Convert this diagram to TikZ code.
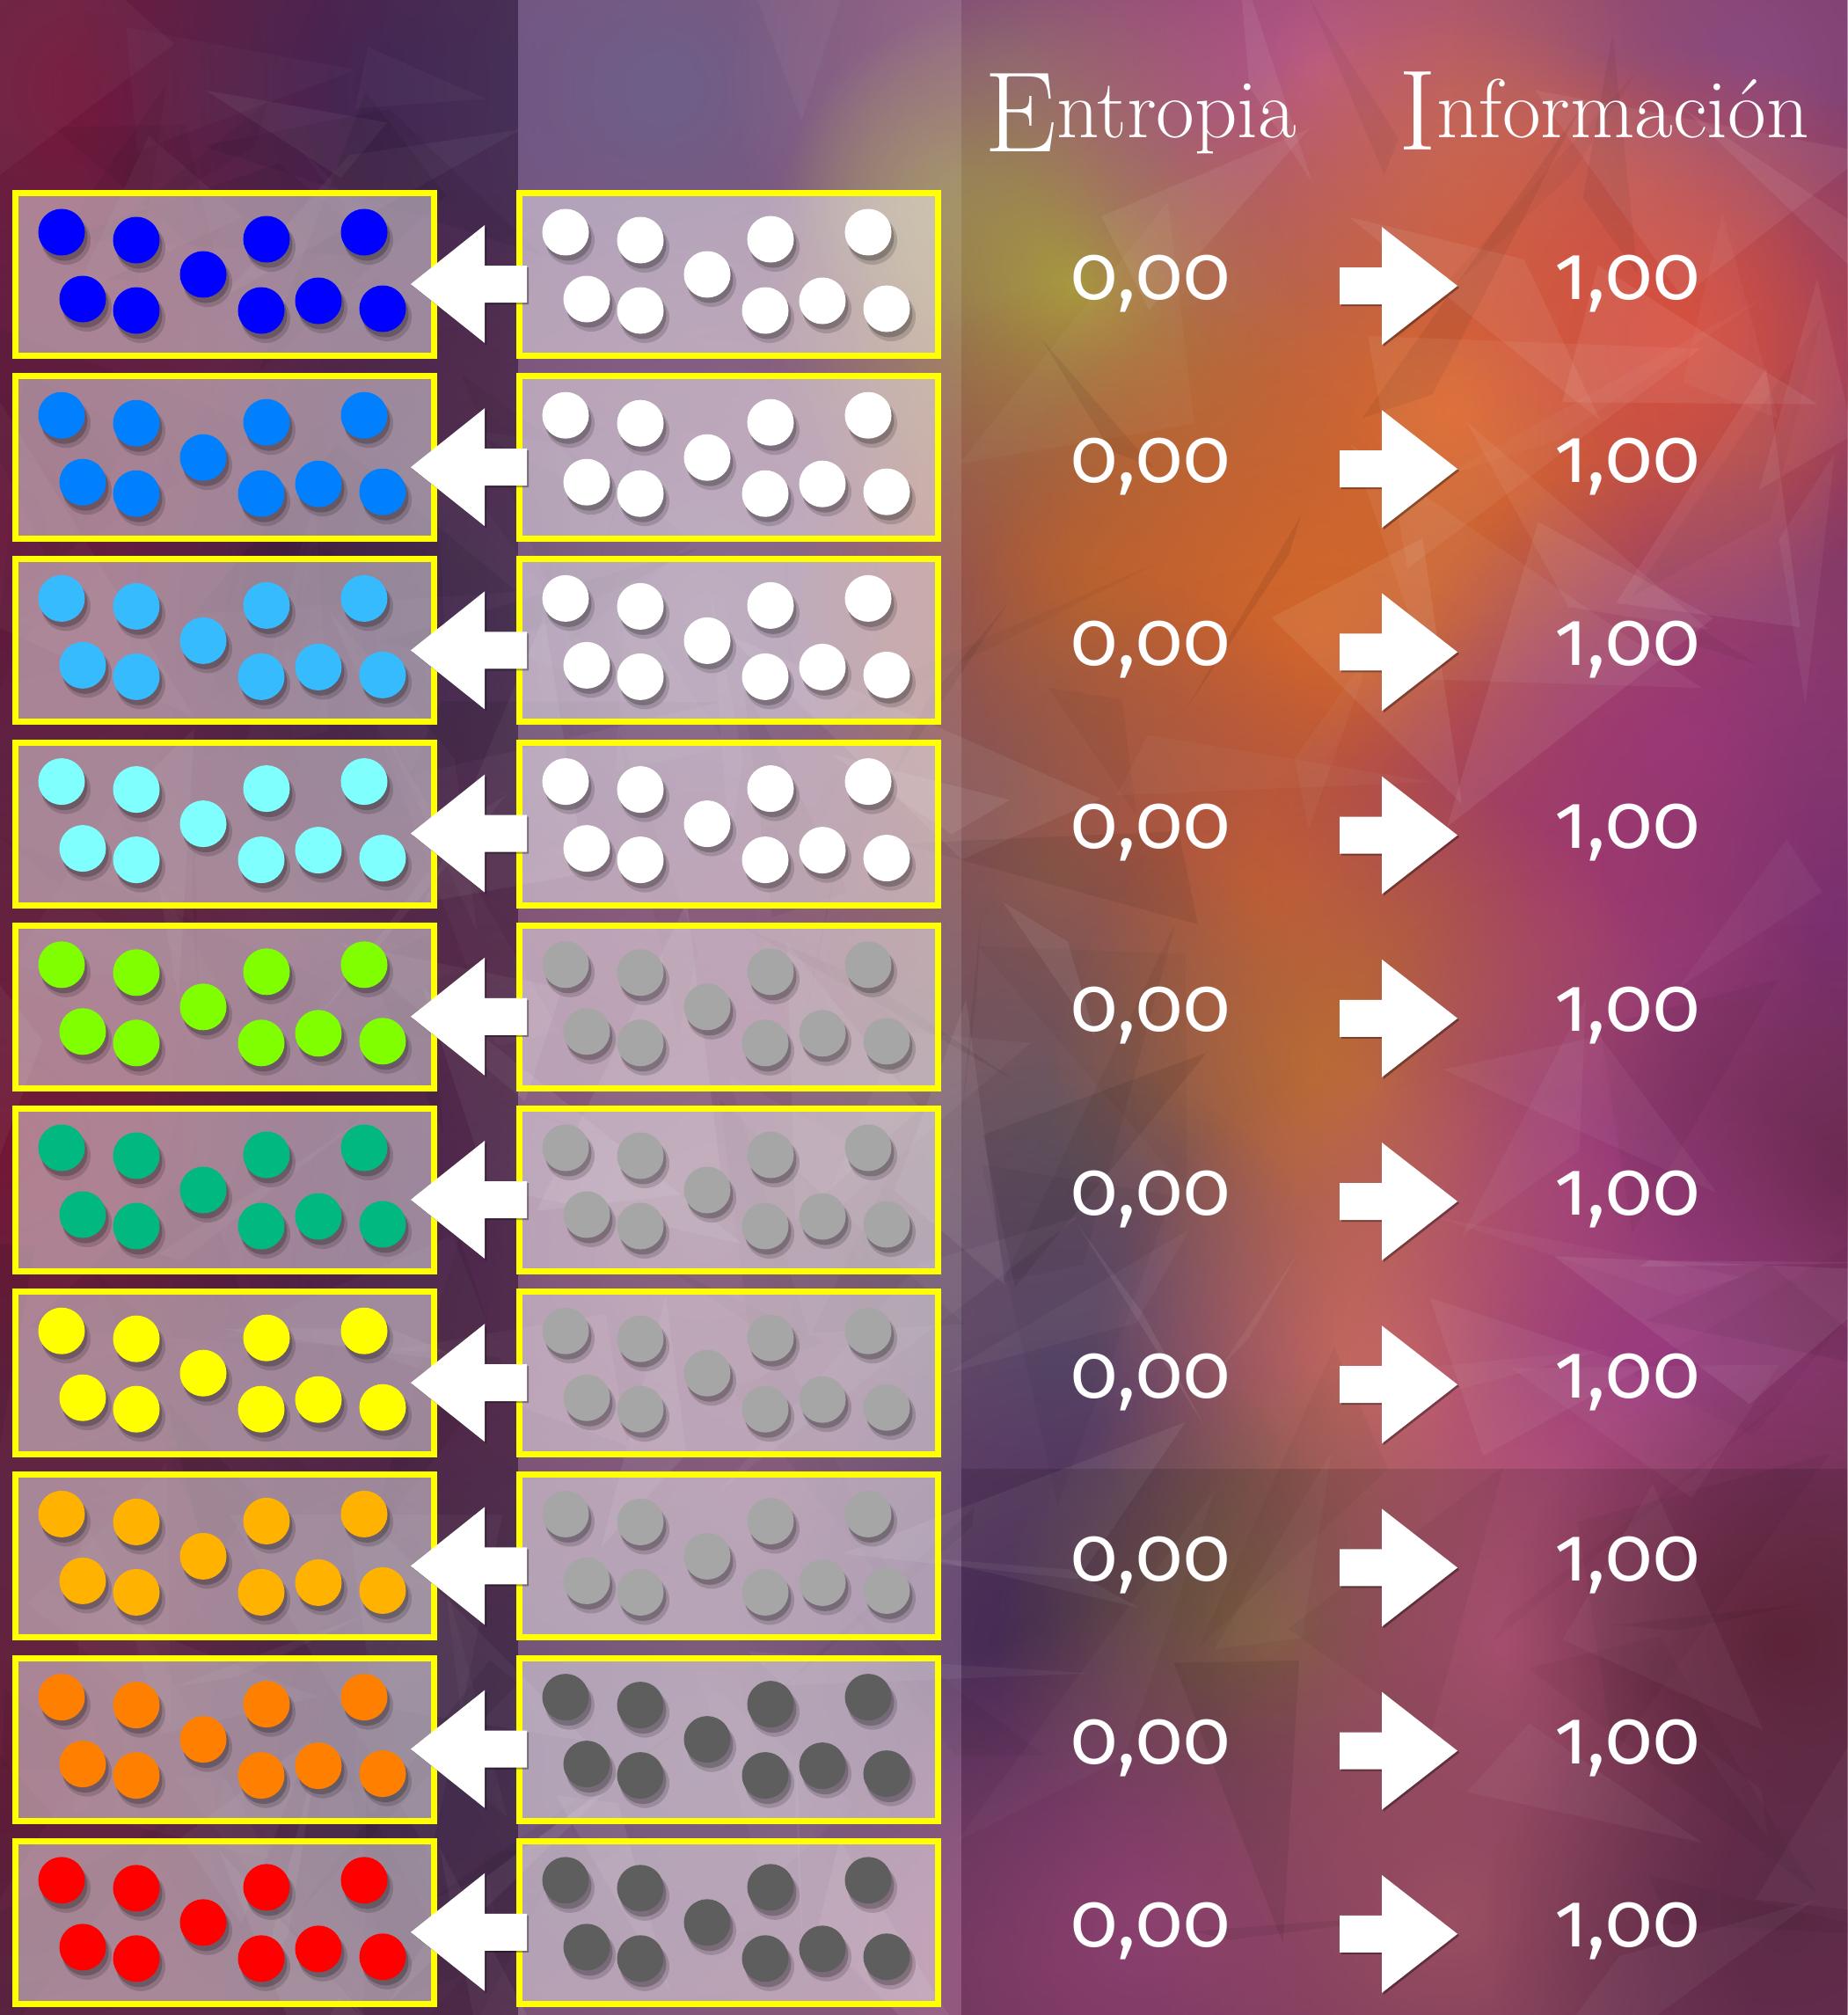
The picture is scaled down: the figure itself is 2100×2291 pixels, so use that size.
\documentclass[tikz,border=0pt]{standalone}
\usepackage{fontspec}
\usetikzlibrary{fadings}
\newfontfamily\numfont{Fira Sans}[Numbers=OldStyle]
\tikzfading[name=softblob, inner color=transparent!0, outer color=transparent!100]
\definecolor{cA}{HTML}{0000FF}
\definecolor{cB}{HTML}{0080FF}
\definecolor{cC}{HTML}{36BBFF}
\definecolor{cD}{HTML}{80FFFF}
\definecolor{cE}{HTML}{80FF00}
\definecolor{cF}{HTML}{00B880}
\definecolor{cG}{HTML}{FFFF00}
\definecolor{cH}{HTML}{FFB300}
\definecolor{cI}{HTML}{FF8000}
\definecolor{cJ}{HTML}{FF0000}
\definecolor{gW}{HTML}{FFFFFF}
\definecolor{gM}{HTML}{A6A6A6}
\definecolor{gD}{HTML}{5E5E5E}
\definecolor{boxyellow}{HTML}{FFFF00}
\definecolor{bgbase}{HTML}{7A3A62}
\newcommand\blob[4]{\definecolor{tmpb}{HTML}{#4}\fill[tmpb, path fading=softblob] (#1,#2) circle [radius=#3];}
\tikzset{
  box/.style={draw=boxyellow, line width=0.07cm, fill=white, fill opacity=0.45,
    minimum width=4.76cm, minimum height=1.85cm, inner sep=0pt, outer sep=0pt},
  numtext/.style={text=white, font=\numfont\fontsize{25pt}{30pt}\selectfont, inner sep=0pt, anchor=base},
  headtext/.style={text=white, inner sep=0pt, anchor=base west},
  blockarrow/.style={fill=white},
  arrowshadow/.style={fill=black, fill opacity=0.35}
}
\begin{document}
\begin{tikzpicture}[x=0.01cm,y=-0.01cm]
\useasboundingbox (0,0) rectangle (2100,2291);
% ---------- background ----------
\fill[bgbase] (0,0) rectangle (2100,2291);
% left column
\blob{100}{100}{380}{A02050}
\blob{450}{100}{380}{5A3070}
\blob{0}{600}{450}{8A2050}
\blob{0}{1300}{450}{9A2048}
\blob{0}{2000}{450}{8A2A50}
\blob{540}{700}{400}{4A2660}
\blob{540}{1400}{400}{5A2060}
\blob{540}{2000}{400}{4A3060}
% middle column
\blob{750}{100}{400}{5A4A7A}
\blob{1080}{200}{180}{8A8A60}
\blob{800}{700}{500}{7A5A80}
\blob{800}{1400}{500}{7A5070}
\blob{800}{2000}{500}{6A4A70}
% right part
\blob{1150}{80}{330}{8A5A80}
\blob{1220}{330}{360}{A89A40}
\blob{1500}{80}{360}{B85A8A}
\blob{1750}{150}{330}{C86A60}
\blob{1980}{80}{330}{8A4A80}
\blob{2100}{420}{300}{8A3A6A}
\blob{1650}{470}{450}{E07030}
\blob{1900}{380}{330}{D85040}
\blob{1250}{680}{360}{B06030}
\blob{1500}{720}{400}{D86A28}
\blob{1920}{850}{340}{A03A7A}
\blob{2080}{1050}{330}{7A3070}
\blob{1200}{1000}{360}{8A5A50}
\blob{1480}{1000}{360}{C05838}
\blob{1760}{1020}{330}{A03A70}
\blob{1200}{1300}{360}{6A5A60}
\blob{1550}{1230}{360}{C07030}
\blob{1820}{1320}{340}{A04080}
\blob{2080}{1350}{300}{6A2A50}
\blob{1200}{1550}{340}{5A4A6A}
\blob{1600}{1560}{360}{D07060}
\blob{1870}{1560}{340}{9A3A80}
\blob{1200}{1870}{360}{4A3060}
\blob{1450}{1870}{320}{8A7040}
\blob{1720}{1870}{360}{C05A80}
\blob{2030}{1870}{320}{6A2A40}
\blob{1300}{2180}{360}{A04A80}
\blob{1650}{2180}{360}{B05A70}
\blob{2030}{2180}{340}{6A3050}
% faceted texture
\pgfmathsetseed{4242}
\foreach \k in {1,...,170}{
  \pgfmathsetmacro\cx{rnd*2100}
  \pgfmathsetmacro\cy{rnd*2291}
  \pgfmathsetmacro\ax{\cx+rand*220}
  \pgfmathsetmacro\ay{\cy+rand*220}
  \pgfmathsetmacro\bx{\cx+rand*220}
  \pgfmathsetmacro\by{\cy+rand*220}
  \pgfmathsetmacro\ex{\cx+rand*220}
  \pgfmathsetmacro\ey{\cy+rand*220}
  \pgfmathsetmacro\op{0.03+rnd*0.05}
  \pgfmathtruncatemacro\wb{rnd>0.5 ? 1 : 0}
  \ifnum\wb=1 \def\tc{white}\else\def\tc{black}\fi
  \fill[\tc, fill opacity=\op] (\ax,\ay) -- (\bx,\by) -- (\ex,\ey) -- cycle;
}
% overlays
\fill[black, fill opacity=0.25] (0,0) rectangle (589,2291);
\fill[white, fill opacity=0.12] (589,0) rectangle (1093,2291);
\fill[black, fill opacity=0.12] (1093,1670) rectangle (2100,2291);
% ---------- header ----------
\node[headtext] (hEnt) at (1119,157)
  {\fontsize{37pt}{40pt}\selectfont\raisebox{-0.15cm}{E}\fontsize{27pt}{32pt}\selectfont ntropia};
\node[headtext] (hInf) at (1590,157)
  {\fontsize{37pt}{40pt}\selectfont\raisebox{-0.13cm}{I}\fontsize{27pt}{32pt}\selectfont nformación};
% ---------- rows ----------
\foreach \i/\dc/\gc in {0/cA/gW,1/cB/gW,2/cC/gW,3/cD/gW,4/cE/gM,5/cF/gM,6/cG/gM,7/cH/gM,8/cI/gD,9/cJ/gD}{
  \pgfmathsetmacro\ty{216+208.2*\i}
  \node[box] (L\i) at (255.5,\ty+96) {};
  \node[box] (R\i) at (828.5,\ty+96) {};
  \begin{scope}[shift={(0,\ty)}]
    \foreach \dx/\dy in {56/48,141/57,217/96,289/56,400/48,80/124,141/137,283/137,348/126,421/135}{
      \foreach \ox/\col in {14/\dc,587/\gc}{
        \fill[black, fill opacity=0.15] (\ox+\dx+5,\dy+9) circle [radius=28];
        \fill[black, fill opacity=0.22] (\ox+\dx+3,\dy+6) circle [radius=26.5];
        \fill[\col] (\ox+\dx,\dy) circle [radius=26.5];
      }
    }
    % left block arrow (from right box to left box)
    \fill[arrowshadow] (469,109) -- (553,42) -- (553,88) -- (601,88) -- (601,130) -- (553,130) -- (553,176) -- cycle;
    \fill[blockarrow] (467,107) -- (551,40) -- (551,86) -- (599,86) -- (599,128) -- (551,128) -- (551,174) -- cycle;
    % right block arrow
    \fill[arrowshadow] (1525,90) -- (1573,90) -- (1573,44) -- (1659,111) -- (1573,178) -- (1573,132) -- (1525,132) -- cycle;
    \fill[blockarrow] (1523,88) -- (1571,88) -- (1571,42) -- (1657,109) -- (1571,176) -- (1571,130) -- (1523,130) -- cycle;
  \end{scope}
  \node[numtext] (E\i) at (1308,\ty+124) {0,00};
  \node[numtext] (I\i) at (1850,\ty+124) {1,00};
}
\end{tikzpicture}
\end{document}
